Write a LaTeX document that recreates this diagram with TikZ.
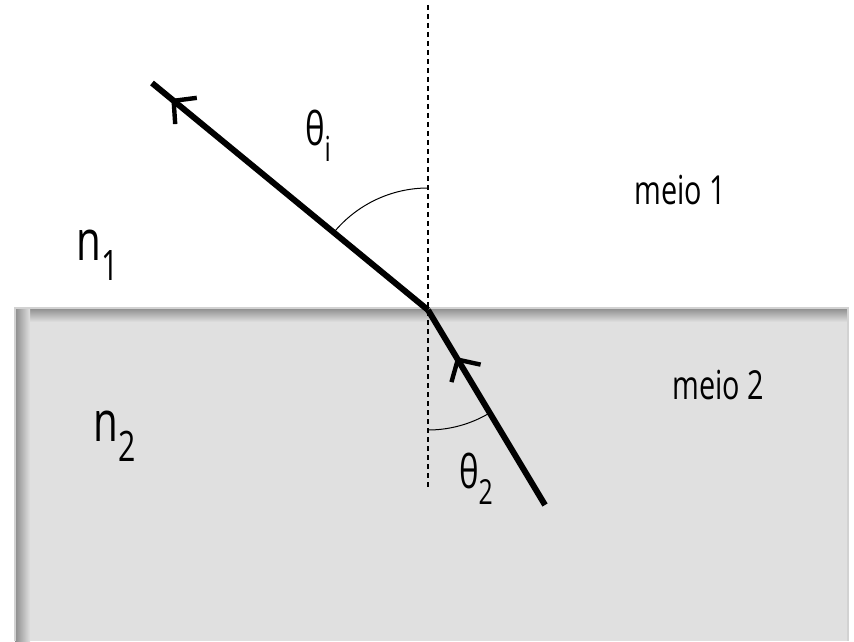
\documentclass[tikz,border=0pt]{standalone}
\usepackage{fontspec}
\setmainfont{Open Sans}[FakeStretch=0.72]
\usepackage{tikz}
\usetikzlibrary{calc}
\usetikzlibrary{angles,arrows.meta,decorations.markings}
\usepackage{xcolor}
\definecolor{mediumgray}{HTML}{E0E0E0}
\definecolor{edgegray}{HTML}{8C8C8C}
\newcommand{\lowsub}[1]{\raisebox{-0.35em}{\scalebox{0.75}{#1}}}

\begin{document}
\begin{tikzpicture}[x=0.5pt,y=-0.5pt,
    midarrow/.style={postaction={decorate},
      decoration={markings, mark=at position #1 with {\arrow{Straight Barb[length=8pt,width=17pt,line width=2.2pt]}}}}]
    \tikzstyle{ray}=[line width=3pt]
    \tikzstyle{normal}=[dash pattern=on 2.5pt off 2pt, line width=0.6pt]
    \tikzstyle{tag}=[font=\fontsize{20}{24}\selectfont]
    \tikzstyle{greektag}=[font=\fontsize{23}{26}\selectfont]
    \tikzstyle{bigtag}=[font=\fontsize{28}{32}\selectfont]
    \useasboundingbox (0,0) rectangle (854,641);
    % medium 2
    \fill[mediumgray] (15,308) rectangle (848,641);
    \shade[top color=edgegray, bottom color=mediumgray] (15,308) rectangle (848,322);
    \shade[left color=edgegray, right color=mediumgray] (15,308) rectangle (30,641);
    \draw[gray!35, line width=1pt] (15,641) -- (15,308) -- (848,308) -- (848,641);
    % rays
    \coordinate (O) at (428,310);
    \coordinate (N) at (428,5);
    \coordinate (S) at (428,490);
    \coordinate (A) at (152,83);
    \coordinate (B) at (545,505);
    \draw[normal] (N) -- (S);
    \draw[ray, midarrow=0.93] (O) -- (A);
    \draw[ray, midarrow=0.76] (B) -- (O);
    \pic[draw, line width=0.5pt, angle radius=61pt] {angle=N--O--A};
    \pic[draw, line width=0.5pt, angle radius=60pt] {angle=S--O--B};
    % labels
    \node[greektag] (thi) at (318,136) {θ\lowsub{i}};
    \node[greektag] (thtwo) at (476,479) {θ\lowsub{2}};
    \node[tag] (m1) at (680,190) {meio 1};
    \node[tag] (m2) at (718,385) {meio 2};
    \node[bigtag] (n1) at (98,255) {n\lowsub{1}};
    \node[bigtag] (n2) at (115,436) {n\lowsub{2}};
\end{tikzpicture}
\end{document}
